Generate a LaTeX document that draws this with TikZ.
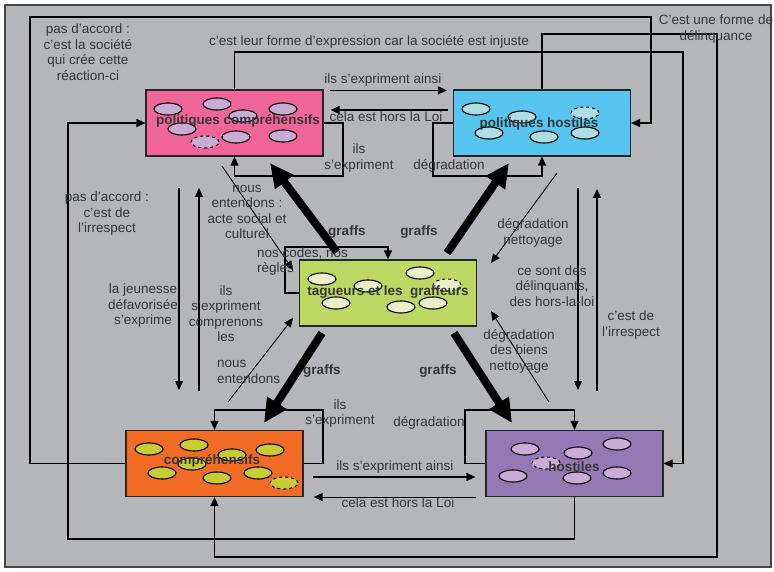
\documentclass[tikz,border=0pt]{standalone}
\usepackage{fontspec}
\setmainfont{Liberation Sans}
\usetikzlibrary{arrows.meta,positioning}
\definecolor{PanelGray}{RGB}{181,182,186}
\definecolor{FrameLine}{RGB}{70,70,70}
\definecolor{InkGray}{RGB}{55,55,55}
\definecolor{PinkBox}{RGB}{240,102,152}
\definecolor{LavBlob}{RGB}{200,172,212}
\definecolor{CyanBox}{RGB}{87,197,240}
\definecolor{CyanBlob}{RGB}{172,222,228}
\definecolor{GreenBox}{RGB}{190,214,98}
\definecolor{GreenBlob}{RGB}{236,238,202}
\definecolor{OrangeBox}{RGB}{242,108,38}
\definecolor{OliveBlob}{RGB}{198,206,52}
\definecolor{PurpleBox}{RGB}{150,120,180}
\definecolor{MauveBlob}{RGB}{202,172,214}

\begin{document}
\begin{tikzpicture}[
    x=1pt, y=-1pt,
    font=\fontsize{13.5}{15.5}\selectfont,
    >={Triangle[length=9pt,width=8pt]},
    box/.style={draw=black!85, line width=1.2pt, rectangle, minimum width=177pt, minimum height=66pt, inner sep=0pt},
    boxtext/.style={font=\fontsize{13.5}{15.5}\selectfont\bfseries, text=InkGray, inner sep=0pt},
    blob/.style={draw=black, line width=1.1pt},
    lbl/.style={align=center, text=InkGray, inner sep=0pt},
    graffs/.style={font=\fontsize{13.5}{15.5}\selectfont\bfseries, text=InkGray, inner sep=0pt},
    arrow/.style={->, line width=1.2pt},
    slant/.style={->, line width=0.9pt},
    graff/.style={line width=8pt, -{Triangle[length=24pt,width=22pt]}}
  ]
    \fill[white] (0,0) rectangle (774,572);
    \useasboundingbox (0,0) rectangle (774,572);
    \draw[draw=FrameLine, fill=PanelGray, line width=1.2pt] (5,5) rectangle (771,567);

    % the five groups
    \node[box, fill=PinkBox] (pc) at (234.5,123) {};
    \node[box, fill=CyanBox] (ph) at (542,123) {};
    \node[box, fill=GreenBox] (tg) at (388,293) {};
    \node[box, fill=OrangeBox] (comp) at (214.5,463.5) {};
    \node[box, fill=PurpleBox] (host) at (574.5,463.5) {};

    % people inside the groups
    \foreach \c in {(168,109),(217,104),(243,116),(283,109),(182,129),(236,137),(283,136)}
      \draw[blob, fill=LavBlob] \c ellipse [x radius=14pt, y radius=6pt];
    \draw[blob, dashed, fill=LavBlob] (205,142) ellipse [x radius=14pt, y radius=6pt];
    \foreach \c in {(476,109),(522,117),(489,133),(544,137),(585,133)}
      \draw[blob, fill=CyanBlob] \c ellipse [x radius=14pt, y radius=6pt];
    \draw[blob, dashed, fill=CyanBlob] (585,113) ellipse [x radius=14pt, y radius=6pt];
    \foreach \c in {(322,279),(368,286),(420,273),(336,303),(401,307),(433,303)}
      \draw[blob, fill=GreenBlob] \c ellipse [x radius=14pt, y radius=6pt];
    \draw[blob, dashed, fill=GreenBlob] (447,285) ellipse [x radius=14pt, y radius=6pt];
    \foreach \c in {(149,449),(194,445),(232,455),(270,450),(192,464),(162,473),(217,478),(258,473)}
      \draw[blob, fill=OliveBlob] \c ellipse [x radius=14pt, y radius=6pt];
    \draw[blob, dashed, fill=OliveBlob] (284,483) ellipse [x radius=14pt, y radius=6pt];
    \foreach \c in {(525,449),(578,453),(617,444),(513,476),(577,478),(617,473)}
      \draw[blob, fill=MauveBlob] \c ellipse [x radius=14pt, y radius=6pt];
    \draw[blob, dashed, fill=MauveBlob] (546,463) ellipse [x radius=14pt, y radius=6pt];

    \node[boxtext] (pclabel) at (238,121) {politiques compréhensifs};
    \node[boxtext] (phlabel) at (539,124) {politiques hostiles};
    \node[boxtext] (tglabel) at (388,292) {tagueurs et les\ \ graffeurs};
    \node[boxtext] (complabel) at (212,461) {compréhensifs};
    \node[boxtext] (hostlabel) at (574,467) {hostiles};

    % long loops round the frame
    \draw[arrow] (comp.west) -| (30,17) -| (651,123) -- (ph.east);
    \draw[arrow] (pc.north) |- (683,52) |- (host.east);
    \draw[arrow] (ph.north) |- (717,34) |- (214.5,557) -- (comp.south);
    \draw[arrow] (host.south) |- (68,539) |- (pc.west);

    % self loops
    \draw[arrow] (pc.east) -| (343,176) -| (pc.south);
    \draw[arrow] (ph.west) -| (433,176) -| (ph.south);
    \draw[arrow] (tg.west) -| (285,247) -| (tg.north);
    \draw[arrow] (comp.east) -| (323,410) -| (comp.north);
    \draw[arrow] (host.west) -| (465,410) -| (host.north);

    % exchanges between the groups
    \draw[arrow] ([xshift=6pt,yshift=-1pt]pc.north east) -- ([xshift=-6pt,yshift=-1pt]ph.north west);
    \draw[arrow] ([shift={(-5pt,13pt)}]ph.west) -- ([shift={(7pt,13pt)}]pc.east);
    \draw[arrow] ([shift={(9pt,-13.5pt)}]comp.east) -- ([shift={(-10pt,-13.5pt)}]host.west);
    \draw[arrow] ([xshift=-9pt]host.south west) -- ([xshift=10pt]comp.south east);

    \coordinate (ldTop) at (179,188);
    \coordinate (ldBot) at (179,390);
    \coordinate (luBot) at (199,391);
    \coordinate (luTop) at (199,188);
    \coordinate (rdTop) at (578,188);
    \coordinate (rdBot) at (578,390);
    \coordinate (ruBot) at (597,391);
    \coordinate (ruTop) at (597,189);
    \draw[arrow] (ldTop) -- (ldBot);
    \draw[arrow] (luBot) -- (luTop);
    \draw[arrow] (rdTop) -- (rdBot);
    \draw[arrow] (ruBot) -- (ruTop);

    \coordinate (s1a) at (222,166);
    \coordinate (s1b) at (293,270);
    \coordinate (s2a) at (228,402);
    \coordinate (s2b) at (293,318);
    \coordinate (s3a) at (557,173);
    \coordinate (s3b) at (491,263);
    \coordinate (s4a) at (549,402);
    \coordinate (s4b) at (491,311);
    \draw[slant] (s1a) -- (s1b);
    \draw[slant] (s2a) -- (s2b);
    \draw[slant] (s3a) -- (s3b);
    \draw[slant] (s4a) -- (s4b);

    % graffs
    \coordinate (g1a) at (337,252);
    \coordinate (g1b) at (270,163);
    \coordinate (g2a) at (447,253);
    \coordinate (g2b) at (509,163);
    \coordinate (g3a) at (322,333);
    \coordinate (g3b) at (264,423);
    \coordinate (g4a) at (454,333);
    \coordinate (g4b) at (512,423);
    \draw[graff] (g1a) -- (g1b);
    \draw[graff] (g2a) -- (g2b);
    \draw[graff] (g3a) -- (g3b);
    \draw[graff] (g4a) -- (g4b);
    \node[graffs] (gr1) at (347,232) {graffs};
    \node[graffs] (gr2) at (419,232) {graffs};
    \node[graffs] (gr3) at (322,371) {graffs};
    \node[graffs] (gr4) at (438,371) {graffs};

    % labels
    \node[lbl] (societe) at (88,52) {pas d'accord :\\c'est la société\\qui crée cette\\réaction-ci};
    \node[lbl] (injuste) at (369,42) {c'est leur forme d'expression car la société est injuste};
    \node[lbl] (delinq) at (716,29) {C'est une forme de\\délinquance};
    \node[lbl] (ainsiHaut) at (383,80) {ils s'expriment ainsi};
    \node[lbl] (loiHaut) at (386,117) {cela est hors la Loi};
    \node[lbl] (exprPC) at (359,158) {ils\\s'expriment};
    \node[lbl] (degrPH) at (449,166) {dégradation};
    \node[lbl] (irrespG) at (107,214) {pas d'accord :\\c'est de\\l'irrespect};
    \node[lbl] (acte) at (247,212) {nous\\entendons :\\acte social et\\culturel};
    \node[lbl, align=left, anchor=west] (codes) at (257,261.5) {nos codes, nos\\règles};
    \node[lbl] (jeunesse) at (143,306) {la jeunesse\\défavorisée\\s'exprime};
    \node[lbl] (comprenons) at (226,313.5) {ils\\s'expriment\\comprenons\\les};
    \node[lbl, align=left, anchor=west] (entendons) at (217,372) {nous\\entendons};
    \node[lbl] (nettoyHaut) at (533,233) {dégradation\\nettoyage};
    \node[lbl] (horsloi) at (552,286) {ce sont des\\délinquants,\\des hors-la-loi};
    \node[lbl] (irrespD) at (631,325) {c'est de\\l'irrespect};
    \node[lbl] (biens) at (519,351) {dégradation\\des biens\\nettoyage};
    \node[lbl] (exprC) at (340,413.5) {ils\\s'expriment};
    \node[lbl] (degrH) at (429,423) {dégradation};
    \node[lbl] (ainsiBas) at (395,467) {ils s'expriment ainsi};
    \node[lbl] (loiBas) at (398,503) {cela est hors la Loi};
  \end{tikzpicture}
\end{document}
